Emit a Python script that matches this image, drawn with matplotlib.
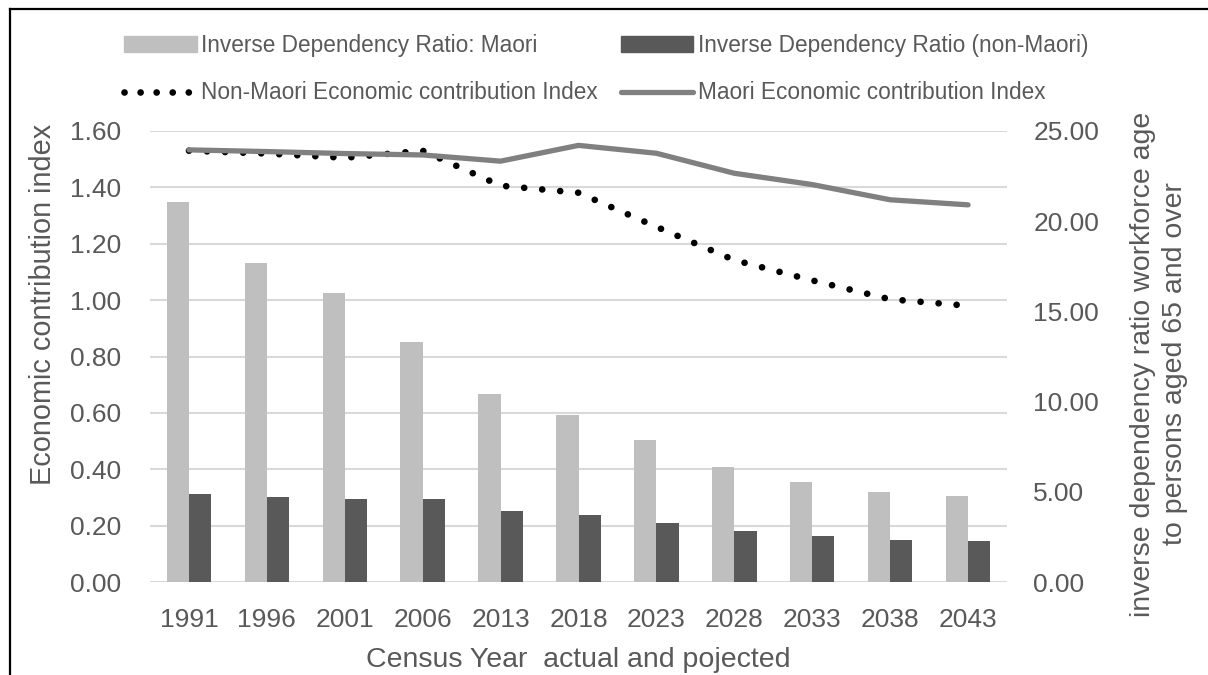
import matplotlib
matplotlib.use("Agg")
import matplotlib.pyplot as plt
from matplotlib.lines import Line2D
from matplotlib.patches import Patch
import numpy as np

# Census years (actual and projected)
years = ['1991', '1996', '2001', '2006', '2013', '2018', '2023', '2028', '2033', '2038', '2043']

# Inverse dependency ratio (right axis)
maori_idr = [21.06, 17.68, 16.0, 13.3, 10.44, 9.28, 7.85, 6.36, 5.56, 4.97, 4.75]
nonmaori_idr = [4.88, 4.73, 4.58, 4.58, 3.94, 3.73, 3.25, 2.84, 2.55, 2.35, 2.27]

# Economic contribution index (left axis)
maori_eci = [1.533, 1.527, 1.52, 1.515, 1.493, 1.549, 1.521, 1.45, 1.41, 1.356, 1.338]
nonmaori_eci = [1.53, 1.52, 1.505, 1.53, 1.406, 1.381, 1.26, 1.142, 1.07, 1.003, 0.98]

left_ticks = [0.0, 0.2, 0.4, 0.6, 0.8, 1.0, 1.2, 1.4, 1.6]
right_ticks = [0, 5, 10, 15, 20, 25]

TEXT = '#595959'
GRID = '#D9D9D9'
plt.rcParams['font.family'] = ['Liberation Sans', 'DejaVu Sans']

fig = plt.figure(figsize=(12.08, 6.75), dpi=100)
W, H = 1208, 675
ax = fig.add_axes([150 / W, 1 - 582 / H, 857 / W, 451 / H])

x = np.arange(len(years))
bw = 0.285
rmax, lmax = 25, 1.6

# gridlines follow the left axis scale, drawn behind the bars
for v in left_ticks:
    ax.axhline(v * rmax / lmax, color=GRID, lw=1.5, zorder=0)

ax.bar(x - bw / 2, maori_idr, bw, color='#BFBFBF', zorder=2)
ax.bar(x + bw / 2, nonmaori_idr, bw, color='#595959', zorder=2)
ax.set_ylim(0, rmax)
ax.set_xlim(-0.5, len(years) - 0.5)
ax.set_yticks(right_ticks)
ax.set_yticklabels([f'{t:.2f}' for t in right_ticks])
ax.set_xticks(x)
ax.set_xticklabels(years)

ax2 = ax.twinx()
l1, = ax2.plot(x, nonmaori_eci, color='black', lw=4.8, linestyle=(0, (0.01, 2.7)),
               dash_capstyle='round', zorder=3)
l2, = ax2.plot(x, maori_eci, color='#808080', lw=3.8, solid_capstyle='round', zorder=4)
ax2.set_ylim(0, lmax)
ax2.set_yticks(left_ticks)
ax2.set_yticklabels([f'{t:.2f}' for t in left_ticks])

# swap sides: bars' scale on the right, index scale on the left
ax.yaxis.tick_right()
ax2.yaxis.tick_left()
ax.tick_params(axis='y', length=0, pad=19, labelsize=19, labelcolor=TEXT)
ax.tick_params(axis='x', length=0, pad=19, labelsize=19, labelcolor=TEXT)
ax2.tick_params(axis='y', length=0, pad=21, labelsize=19, labelcolor=TEXT)

for a in (ax, ax2):
    for s in a.spines.values():
        s.set_visible(False)

# axis titles
fig.text(43 / W, 1 - 304 / H, 'Economic contribution index', rotation=90,
         ha='center', va='center', fontsize=20.8, color=TEXT)
fig.text(1159 / W, 1 - 364 / H,
         'inverse dependency ratio workforce age\nto persons aged 65 and over',
         rotation=90, ha='center', va='center', fontsize=20.5, color=TEXT,
         linespacing=1.35, multialignment='center')
fig.text(578 / W, 1 - 660 / H, 'Census Year  actual and pojected',
         ha='center', va='center', fontsize=20.5, color=TEXT)

# legend (column-major order for two columns)
dot_handle = Line2D([], [], color='black', lw=4.8, linestyle=(0, (0.01, 2.4)),
                    dash_capstyle='round')
handles = [Patch(color='#BFBFBF'), dot_handle, Patch(color='#595959'), l2]
labels = ['Inverse Dependency Ratio: Maori', 'Non-Maori Economic contribution Index',
          'Inverse Dependency Ratio (non-Maori)', 'Maori Economic contribution Index']
fig.legend(handles, labels, ncol=2, loc='center left',
           bbox_to_anchor=(104 / W, 1 - 69 / H), frameon=False,
           fontsize=16.3, handlelength=3.2, handletextpad=0.2, columnspacing=1.0,
           labelspacing=1.1, labelcolor=TEXT)

# outer frame (only left and top edges visible in the crop)
fig.add_artist(Line2D([10 / W, 10 / W], [0, 1 - 9 / H], transform=fig.transFigure,
                      color='black', lw=1.6))
fig.add_artist(Line2D([10 / W, 1], [1 - 9 / H, 1 - 9 / H], transform=fig.transFigure,
                      color='black', lw=1.6))

fig.savefig('out.png', dpi=100)
